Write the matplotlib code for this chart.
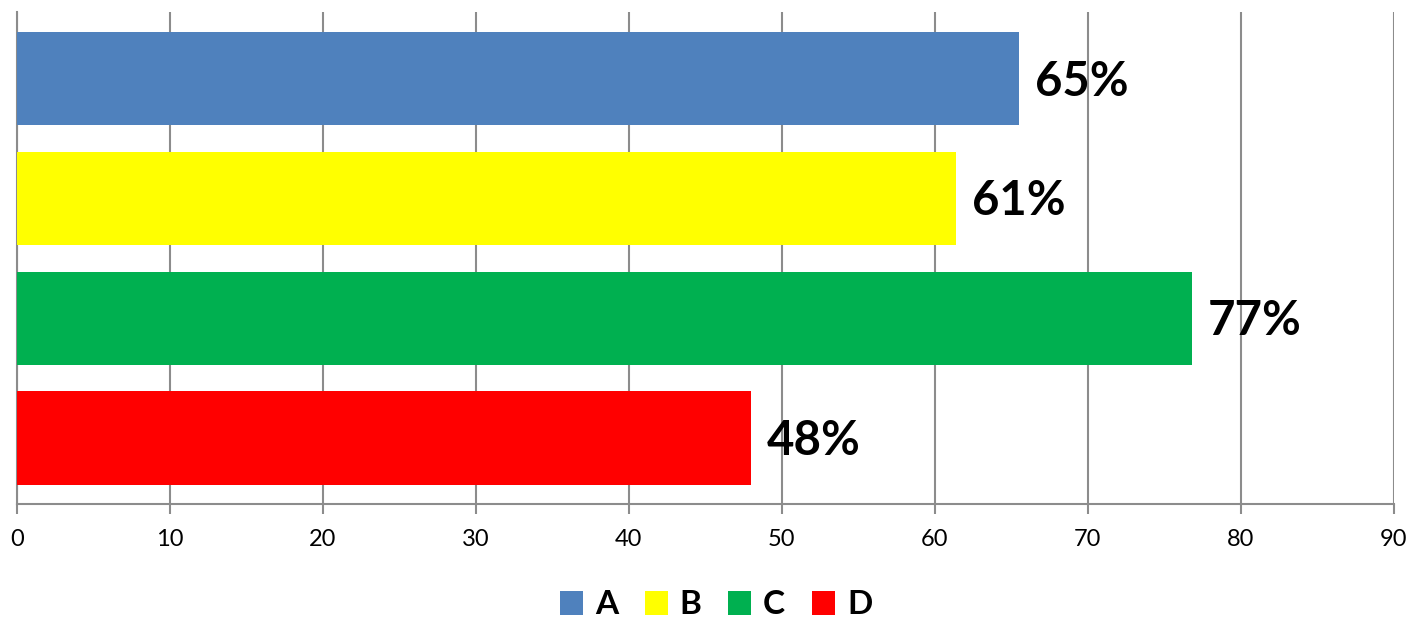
import matplotlib
matplotlib.use("Agg")
import matplotlib.pyplot as plt
from matplotlib.patches import Patch

categories = ["A", "B", "C", "D"]
values = [65.5, 61.4, 76.8, 48.0]
value_labels = ["65%", "61%", "77%", "48%"]
colors = ["#4F81BD", "#FFFF00", "#00B050", "#FF0000"]
xticks = [0, 10, 20, 30, 40, 50, 60, 70, 80, 90]

plt.rcParams['font.family'] = ['Lato', 'DejaVu Sans']

fig = plt.figure(figsize=(14.08, 6.19), dpi=100)
ax = fig.add_axes([17 / 1408, 1 - 504 / 619, (1393.7 - 17) / 1408, (504 - 12) / 619])

pos = list(range(len(categories)))
ax.barh(pos, values, height=0.78, color=colors, zorder=3)

for p, v, lab in zip(pos, values, value_labels):
    ax.annotate(lab, (v, p), xytext=(11.5, -2), textcoords="offset points",
                ha="left", va="center", fontsize=34, fontweight="bold", zorder=4)

ax.set_xlim(0, 90)
ax.set_ylim(3.552, -0.558)
ax.set_xticks(xticks)
ax.set_yticks([])
ax.grid(axis="x", color="#8c8c8c", linewidth=1.5, zorder=0)
for side in ["top", "right"]:
    ax.spines[side].set_visible(False)
for side in ["left", "bottom"]:
    ax.spines[side].set_color("#8c8c8c")
    ax.spines[side].set_linewidth(1.5)
ax.tick_params(axis="x", length=7, width=1.5, color="#8c8c8c", labelsize=17, pad=11)

handles = [Patch(facecolor=c, label=n) for c, n in zip(colors, categories)]
leg = fig.legend(handles=handles, loc="center", bbox_to_anchor=(0.5 + 12 / 1408, 1 - 605 / 619),
                 ncol=4, frameon=False, handlelength=0.7, handleheight=0.7,
                 handletextpad=0.35, columnspacing=0.8,
                 prop={"size": 24, "weight": "bold"})

fig.savefig("out.png", dpi=100)
